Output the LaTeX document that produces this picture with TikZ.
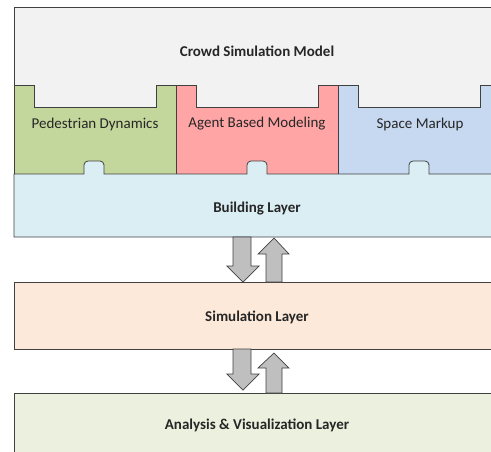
\documentclass[tikz,border=0pt]{standalone}
\usepackage{fontspec}
\setmainfont{Carlito}
\definecolor{topgray}{HTML}{F2F2F2}
\definecolor{pedgreen}{HTML}{C3D69B}
\definecolor{agentred}{HTML}{FFA5A5}
\definecolor{spaceblue}{HTML}{C6D9F1}
\definecolor{buildblue}{HTML}{DBEEF4}
\definecolor{simorange}{HTML}{FDE9D9}
\definecolor{anagreen}{HTML}{EBF1DE}
\definecolor{arrgray}{HTML}{BFBFBF}
\definecolor{edge}{HTML}{404040}
\tikzset{
  outline/.style={draw=edge, line width=0.8pt, line join=miter},
  blockarrow/.style={draw=edge, fill=arrgray, line width=0.7pt},
  titletext/.style={font=\fontsize{15}{17}\selectfont\bfseries, text=black!85},
  modtext/.style={font=\fontsize{15}{17}\selectfont, text=black!85},
}
\begin{document}
\begin{tikzpicture}[x=1pt,y=-1pt]
\useasboundingbox (0,0) rectangle (491,451);
% top box
\path[outline, fill=topgray] (14,7) rectangle (505,174);
\node[titletext] (crowd) at (257,51) {Crowd Simulation Model};
% modules
\foreach \x/\c/\n in {14/pedgreen/ped, 176/agentred/agent, 338/spaceblue/space}{
  \path[outline, fill=\c] (\x,85) -- ++(20,0) -- ++(0,22) -- ++(122,0) -- ++(0,-22) -- ++(20,0) -- ++(0,89) -- ++(-162,0) -- cycle;
}
\node[modtext] (ped) at (95,124) {Pedestrian Dynamics};
\node[modtext] (agent) at (257,124) {Agent Based Modeling};
\node[modtext] (space) at (420,124) {Space Markup};
% building layer
\path[outline, fill=buildblue] (14,174)
  -- (84,174) -- (84,168) [rounded corners=4pt] -- (84,161) -- (104,161) -- (104,168) [sharp corners] -- (104,174)
  -- (247,174) -- (247,168) [rounded corners=4pt] -- (247,161) -- (267,161) -- (267,168) [sharp corners] -- (267,174)
  -- (409,174) -- (409,168) [rounded corners=4pt] -- (409,161) -- (429,161) -- (429,168) [sharp corners] -- (429,174)
  -- (505,174) -- (505,237) -- (14,237) -- cycle;
\node[titletext] (building) at (257,209) {Building Layer};
% simulation layer
\path[outline, fill=simorange] (14,282) rectangle (505,349);
\node[titletext] (simulation) at (257,317) {Simulation Layer};
% analysis layer
\path[outline, fill=anagreen] (14,393) rectangle (505,470);
\node[titletext] (analysis) at (257,425) {Analysis \& Visualization Layer};
% arrows between building and simulation
\path[blockarrow] (233,237) -- (251,237) -- (251,266) -- (259,266) -- (243,282) -- (227,266) -- (233,266) -- cycle;
\path[blockarrow] (266,282) -- (282,282) -- (282,254) -- (289,254) -- (274,238) -- (258,254) -- (266,254) -- cycle;
% arrows between simulation and analysis
\path[blockarrow] (233,349) -- (251,349) -- (251,374) -- (259,374) -- (243,390) -- (227,374) -- (233,374) -- cycle;
\path[blockarrow] (266,393) -- (282,393) -- (282,368) -- (289,368) -- (274,353) -- (258,368) -- (266,368) -- cycle;
\end{tikzpicture}
\end{document}
